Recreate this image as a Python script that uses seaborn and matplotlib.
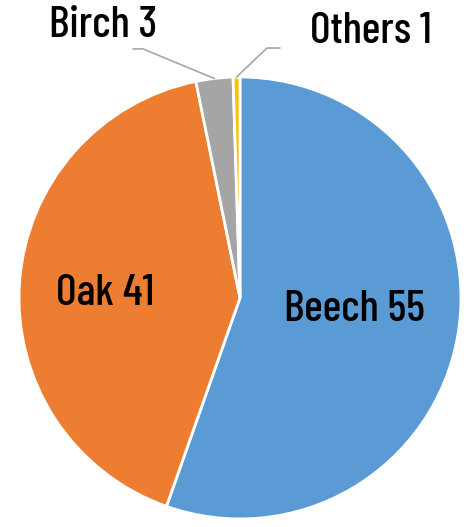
import numpy as np
import matplotlib
matplotlib.use("Agg")
import matplotlib.pyplot as plt
import seaborn as sns

# datos del grafico
species = ["Beech", "Oak", "Birch", "Others"]
shares = [55.4, 41.4, 2.7, 0.5]      # tamaño de cada porcion
shown = [55, 41, 3, 1]               # numeros escritos en las etiquetas
colors = ["#5B9BD5", "#ED7D31", "#A5A5A5", "#FFC000"]

sns.set_theme(style="white")
plt.rcParams["font.family"] = ["Barlow Condensed", "DejaVu Sans"]
plt.rcParams["text.color"] = "black"

fig = plt.figure(figsize=(4.74, 5.27), dpi=100)
ax = fig.add_axes([0, 0, 1, 1])

wedges, _ = ax.pie(shares, colors=colors, startangle=90, counterclock=False,
                   radius=1.0, wedgeprops=dict(edgecolor="white", linewidth=2))

ax.set_xlim(-1.086, 1.059)
ax.set_ylim(-1.036, 1.348)
ax.set_aspect("equal")
ax.axis("off")

lbl = dict(ha="center", va="center", fontsize=32, fontweight=500)

# etiquetas dentro
ax.text(0.52, -0.054, f"{species[0]} {shown[0]}", **lbl)
ax.text(-0.611, 0.018, f"{species[1]} {shown[1]}", **lbl)

# etiquetas fuera con lineas guia
def mid_point(w):
    ang = np.deg2rad((w.theta1 + w.theta2) / 2)
    return np.cos(ang), np.sin(ang)

bx, by = mid_point(wedges[2])
ax.plot([-0.484, -0.439, bx], [1.127, 1.127, by], color="#A6A6A6", lw=1.2)
ax.text(-0.62, 1.231, f"{species[2]} {shown[2]}", **lbl)

ox, oy = mid_point(wedges[3])
ax.plot([ox, 0.122, 0.181], [oy, 1.131, 1.131], color="#A6A6A6", lw=1.2)
ax.text(0.593, 1.204, f"{species[3]} {shown[3]}", **lbl)

fig.savefig("out.png", dpi=100)
